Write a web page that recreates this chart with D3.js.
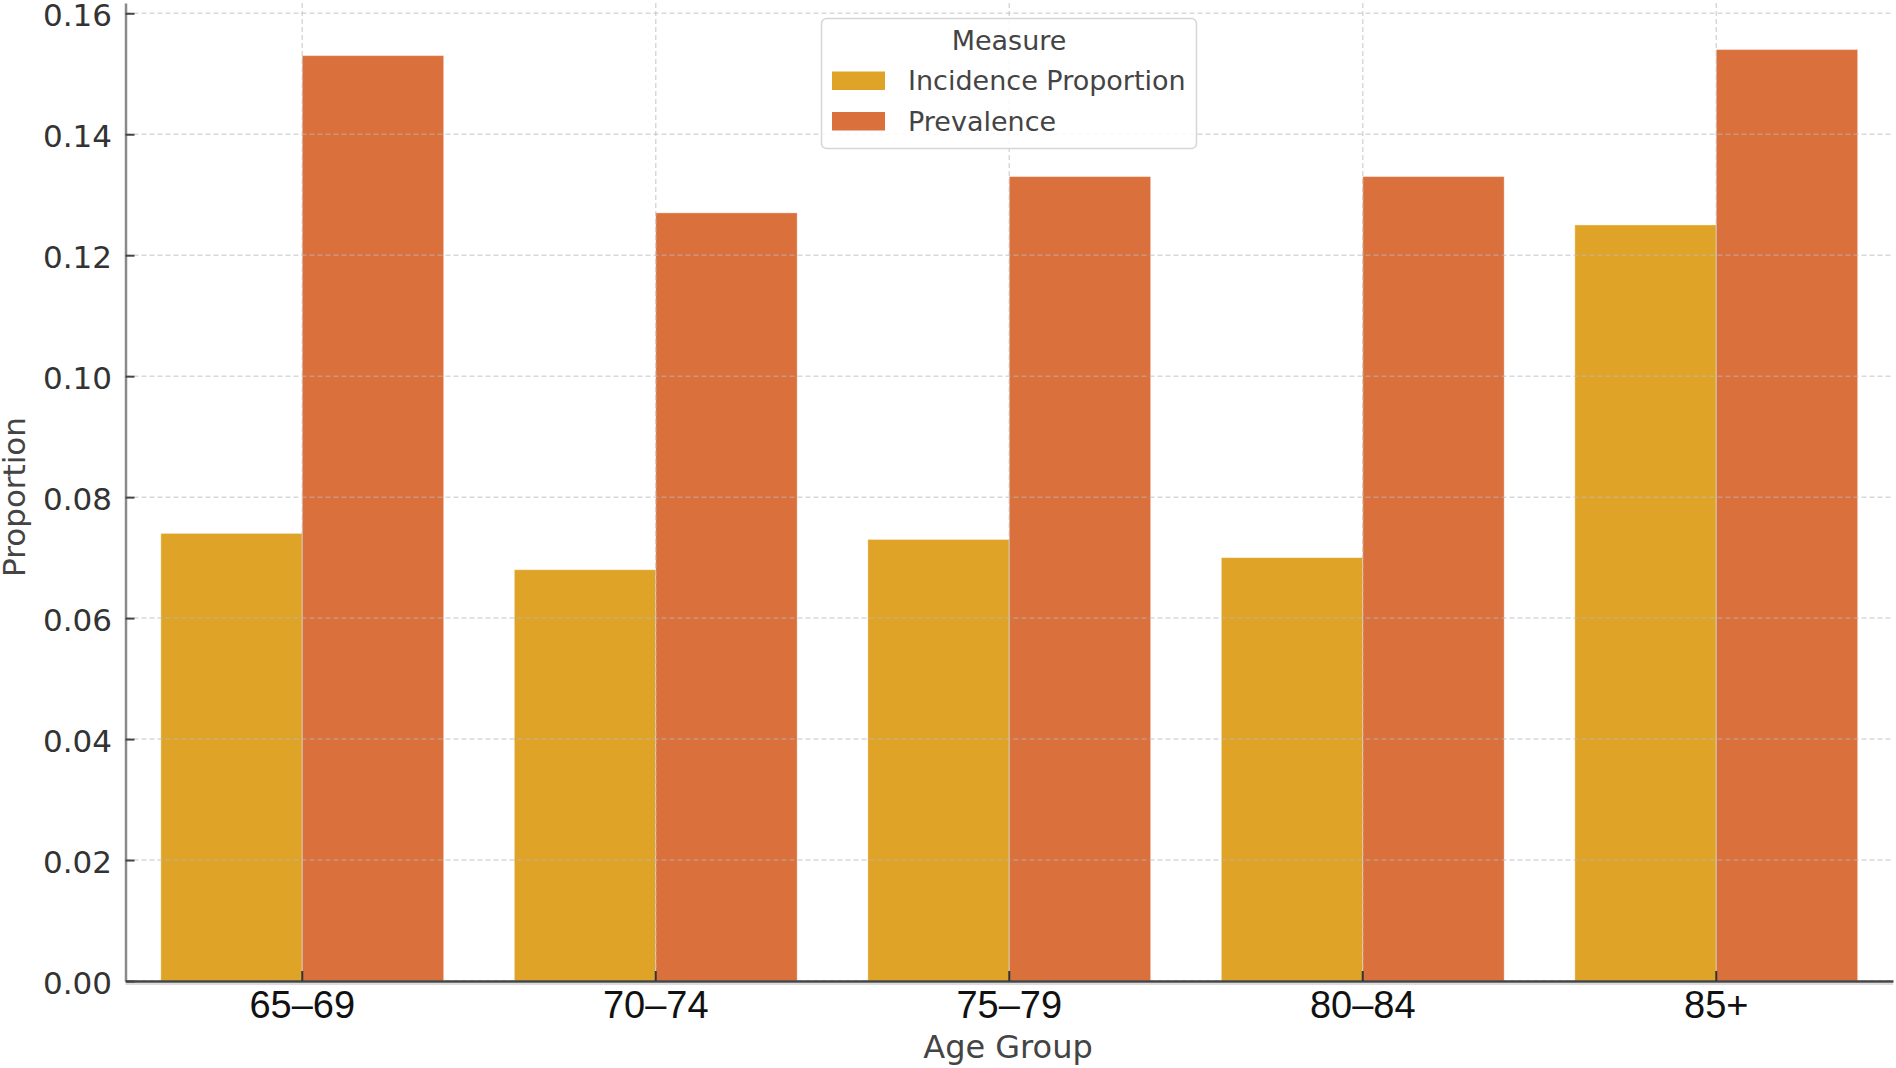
<!DOCTYPE html>
<html>
<head>
<meta charset="utf-8">
<script src="https://cdn.jsdelivr.net/npm/d3@7"></script>
<style>
  html, body { margin: 0; padding: 0; background: #fff; }
  svg { display: block; }
</style>
</head>
<body>
<svg id="chart"></svg>
<script>
const svgWidth = 1896;
const svgHeight = 1068;

// data
const ageGroups = ["65–69", "70–74", "75–79", "80–84", "85+"];
const measures = ["Incidence Proportion", "Prevalence"];
const incidence = [0.074, 0.068, 0.073, 0.070, 0.125];
const prevalence = [0.153, 0.127, 0.133, 0.133, 0.154];
const yTicks = [0, 0.02, 0.04, 0.06, 0.08, 0.10, 0.12, 0.14, 0.16];
const colors = ["#dfa427", "#da703b"];

const rows = ageGroups.map((g, i) => ({ group: g, values: [incidence[i], prevalence[i]] }));

const margin = { top: 3, right: 3, bottom: 87, left: 125.5 };
const width = svgWidth - margin.left - margin.right;
const height = svgHeight - margin.top - margin.bottom;

const svg = d3.select("#chart")
  .attr("width", svgWidth)
  .attr("height", svgHeight);

const g = svg.append("g")
  .attr("transform", `translate(${margin.left},${margin.top})`);

const x = d3.scaleBand()
  .domain(ageGroups)
  .range([0, width])
  .paddingInner(0.2)
  .paddingOuter(0.1);

const xSub = d3.scaleBand()
  .domain(measures)
  .range([0, x.bandwidth()]);

const y = d3.scaleLinear()
  .domain([0, 0.1617])
  .range([height, 0]);

// bars
const groups = g.selectAll(".group")
  .data(rows)
  .enter().append("g")
  .attr("class", "group")
  .attr("transform", d => `translate(${x(d.group)},0)`);

groups.selectAll("rect")
  .data(d => d.values.map((v, k) => ({ m: measures[k], v: v, k: k })))
  .enter().append("rect")
  .attr("x", d => xSub(d.m))
  .attr("y", d => y(d.v))
  .attr("width", xSub.bandwidth())
  .attr("height", d => height - y(d.v))
  .style("fill", d => colors[d.k])
  .style("stroke", "rgba(255,255,255,0.35)")
  .style("stroke-width", 1);

// grid on top of bars, faint dashed
g.append("g")
  .selectAll("line")
  .data(yTicks)
  .enter().append("line")
  .attr("x1", 0)
  .attr("x2", width)
  .attr("y1", d => y(d))
  .attr("y2", d => y(d))
  .style("stroke", "rgba(185,185,185,0.55)")
  .style("stroke-width", 1.5)
  .style("stroke-dasharray", "5,3");

g.append("g")
  .selectAll("line")
  .data(ageGroups)
  .enter().append("line")
  .attr("x1", d => x(d) + x.bandwidth() / 2)
  .attr("x2", d => x(d) + x.bandwidth() / 2)
  .attr("y1", 0)
  .attr("y2", height)
  .style("stroke", "rgba(185,185,185,0.55)")
  .style("stroke-width", 1.5)
  .style("stroke-dasharray", "5,3");

// y axis
const yAxis = g.append("g")
  .call(d3.axisLeft(y).tickValues(yTicks).tickFormat(d3.format(".2f")).tickSizeInner(-9).tickSizeOuter(0));
yAxis.select(".domain").style("stroke", "#8a8a8a").style("stroke-width", 2.5);
yAxis.selectAll(".tick line").style("stroke", "#444").style("stroke-width", 2);
yAxis.selectAll("text")
  .attr("x", -13.5)
  .attr("dy", "0.4em")
  .style("font-family", "DejaVu Sans")
  .style("font-size", "31px")
  .style("fill", "#333");

// x axis
const xAxis = g.append("g")
  .attr("transform", `translate(0,${height})`)
  .call(d3.axisBottom(x).tickSizeInner(-10).tickSizeOuter(0));
xAxis.select(".domain").style("stroke", "#444").style("stroke-width", 2.7);
xAxis.selectAll(".tick line").style("stroke", "#333").style("stroke-width", 2);
xAxis.selectAll("text")
  .attr("y", 36.7)
  .attr("dy", 0)
  .style("font-family", "Liberation Sans")
  .style("font-size", "38px")
  .style("fill", "#111");

// light line under bottom spine
g.append("line")
  .attr("x1", 0)
  .attr("x2", width)
  .attr("y1", height + 3)
  .attr("y2", height + 3)
  .style("stroke", "#d0d0d0")
  .style("stroke-width", 1.5);

// axis titles
svg.append("text")
  .attr("x", 1008)
  .attr("y", 1058)
  .attr("text-anchor", "middle")
  .style("font-family", "DejaVu Sans")
  .style("font-size", "32px")
  .style("fill", "#444")
  .text("Age Group");

svg.append("text")
  .attr("transform", "translate(25,497) rotate(-90)")
  .attr("text-anchor", "middle")
  .style("font-family", "DejaVu Sans")
  .style("font-size", "31px")
  .style("fill", "#444")
  .text("Proportion");

// legend
const legend = svg.append("g");
legend.append("rect")
  .attr("x", 821.5)
  .attr("y", 18.5)
  .attr("width", 375)
  .attr("height", 130)
  .attr("rx", 5)
  .style("fill", "rgba(255,255,255,0.85)")
  .style("stroke", "#d6d6d6")
  .style("stroke-width", 1.5);

legend.append("text")
  .attr("x", 1009)
  .attr("y", 50)
  .attr("text-anchor", "middle")
  .style("font-family", "DejaVu Sans")
  .style("font-size", "27px")
  .style("fill", "#444")
  .text("Measure");

const items = legend.selectAll(".item")
  .data(measures)
  .enter().append("g")
  .attr("class", "item")
  .attr("transform", (d, i) => `translate(0,${i * 40.5})`);

items.append("rect")
  .attr("x", 832)
  .attr("y", 71.5)
  .attr("width", 53)
  .attr("height", 18.5)
  .style("fill", (d, i) => colors[i]);

items.append("text")
  .attr("x", 908)
  .attr("y", 90)
  .style("font-family", "DejaVu Sans")
  .style("font-size", "27px")
  .style("fill", "#444")
  .text(d => d);
</script>
</body>
</html>
